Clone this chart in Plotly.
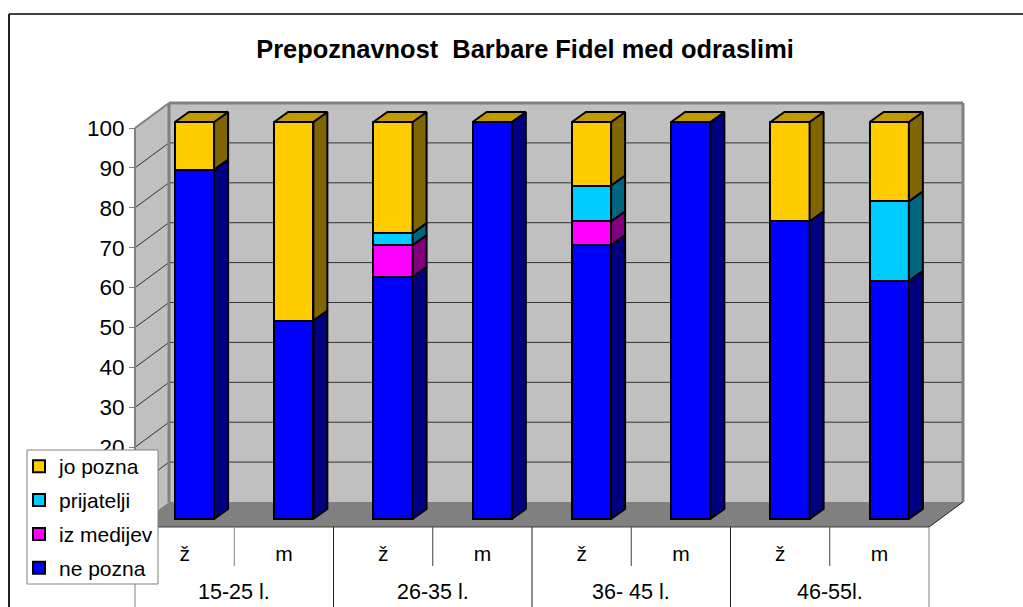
import plotly.graph_objects as go

TITLE = "Prepoznavnost  Barbare Fidel med odraslimi"
SUB = ["ž", "m", "ž", "m", "ž", "m", "ž", "m"]
GROUPS = ["15-25 l.", "26-35 l.", "36- 45 l.", "46-55l."]
ne_pozna = [88, 50, 61, 100, 69, 100, 75, 60]
iz_medijev = [0, 0, 8, 0, 6, 0, 0, 0]
prijatelji = [0, 0, 3, 0, 9, 0, 0, 20]
jo_pozna = [12, 50, 28, 0, 16, 0, 25, 20]
SERIES = [
    ("ne pozna", ne_pozna, "#0000FF", "#000080"),
    ("iz medijev", iz_medijev, "#FF00FF", "#800080"),
    ("prijatelji", prijatelji, "#00CCFF", "#006680"),
    ("jo pozna", jo_pozna, "#FFCC00", "#806600"),
]
TOP_COLOR = "#C09A00"
TICKS = list(range(0, 101, 10))
TICK_LABELS = ["", "", "20", "30", "40", "50", "60", "70", "80", "90", "100"]  # 0 and 10 lie under the legend

W, H = 1023, 607
FONT = "Liberation Sans, Arial, sans-serif"
UX, X0 = 99.25, 194.5   # px per category, centre of first bar
UY, Y0 = 3.97, 519.0    # px per percent, base of bars
BAR_W = 0.395
DX, DY = 14 / UX, 10 / UY  # bar depth in axis units

FL, FR, FB, FS = 135, 929, 527, 3.99   # front plane
BL, BR, BB, BS = 169, 963, 502, 3.99   # back wall
GRID = "#333333"
EDGE = "#808080"


def px(x):
    return x / W


def py(y):
    return 1 - y / H


def poly(pts, fill, line=None, width=1, layer="below"):
    d = "M" + "L".join(f"{px(x):.5f},{py(y):.5f}" for x, y in pts) + "Z"
    return dict(type="path", path=d, xref="paper", yref="paper", fillcolor=fill,
                line=dict(color=line or fill, width=width if line else 0), layer=layer)


def seg(x0, y0, x1, y1, color, width=1, layer="below"):
    return dict(type="line", xref="paper", yref="paper", x0=px(x0), y0=py(y0), x1=px(x1), y1=py(y1),
                line=dict(color=color, width=width), layer=layer)


shapes = []
# chart frame (top and left edges are what fits in the page)
shapes += [seg(9, 14, W, 14, "#404040", 2), seg(9, 14, 9, H, "#202020", 2)]
# walls and floor
top_y = BB - 100 * BS
ftop = FB - 100 * FS
shapes.append(poly([(BL, top_y), (BR, top_y), (BR, BB), (BL, BB)], "#C0C0C0"))
shapes.append(poly([(FL, ftop), (BL, top_y), (BL, BB), (FL, FB)], "#C0C0C0"))
for v in TICKS[1:-1]:
    shapes.append(seg(BL, BB - v * BS, BR, BB - v * BS, GRID, 1))
    shapes.append(seg(FL, FB - v * FS, BL, BB - v * BS, GRID, 1))
shapes.append(poly([(FL, FB), (FR, FB), (BR, BB), (BL, BB)], "#808080"))
shapes += [
    seg(BL, top_y, BR, top_y, EDGE, 3),
    seg(BR, top_y, BR, BB, EDGE, 3),
    seg(BL, top_y, BL, BB, EDGE, 3),
    seg(FL, ftop, BL, top_y, EDGE, 2),
    seg(FL, FB, FR, FB, "#404040", 1),
    seg(FR, FB, BR, BB, "#202020", 1),
]
# category dividers
cat = (FR - FL) / len(SUB)
for i in range(len(SUB) + 1):
    x = FL + i * cat
    if i % 2:
        shapes.append(seg(x, FB, x, 566, "#404040" if i > 1 else EDGE, 1))
    else:
        shapes.append(seg(x, FB, x, H, EDGE if i in (0, len(SUB)) else "#202020", 1))
# legend box sits above the chart
shapes.append(dict(type="rect", xref="paper", yref="paper", x0=px(27), x1=px(158), y0=py(450), y1=py(584),
                   fillcolor="white", line=dict(color="#808080", width=1), layer="above"))

fig = go.Figure()
for k, (name, vals, col, _) in enumerate(SERIES):
    fig.add_trace(go.Bar(
        x=list(range(len(SUB))), y=vals, name=name, legendgroup=name, legendrank=len(SERIES) - k, width=BAR_W,
        marker=dict(color=col, line=dict(color="black", width=2)),
        xaxis="x", yaxis="y", hoverinfo="skip"))

# side faces and tops come from the same values
for i in range(len(SUB)):
    base = 0
    xr = i + BAR_W / 2
    xl = i - BAR_W / 2
    for name, vals, col, dark in SERIES:
        v = vals[i]
        if v > 0:
            fig.add_trace(go.Scatter(
                x=[xr, xr + DX, xr + DX, xr, xr],
                y=[base, base + DY, base + v + DY, base + v, base],
                mode="lines", fill="toself", fillcolor=dark, line=dict(color="black", width=2),
                showlegend=False, hoverinfo="skip", xaxis="x", yaxis="y"))
        base += v
    fig.add_trace(go.Scatter(
        x=[xl, xr, xr + DX, xl + DX, xl],
        y=[base, base, base + DY, base + DY, base],
        mode="lines", fill="toself", fillcolor=TOP_COLOR, line=dict(color="black", width=2),
        showlegend=False, hoverinfo="skip", xaxis="x", yaxis="y"))

# invisible carrier for the front-plane axes
fig.add_trace(go.Scatter(x=list(range(len(SUB))), y=[0] * len(SUB), mode="lines", line=dict(width=0),
                         showlegend=False, hoverinfo="skip", xaxis="x2", yaxis="y2"))

annotations = [dict(text=g, xref="x2", yref="paper", x=0.5 + 2 * i, y=py(592), showarrow=False,
                    font=dict(family=FONT, size=21.5, color="black"), xanchor="center", yanchor="middle")
               for i, g in enumerate(GROUPS)]

fig.update_layout(
    width=W, height=H, autosize=False,
    margin=dict(l=0, r=0, t=0, b=0, autoexpand=False),
    paper_bgcolor="white", plot_bgcolor="rgba(0,0,0,0)",
    barmode="stack", bargap=0,
    title=dict(text=f"<b>{TITLE}</b>", x=525 / W, xanchor="center", y=py(49), yanchor="middle",
               font=dict(family=FONT, size=25.4, color="black")),
    xaxis=dict(domain=[0, 1], range=[(0 - X0) / UX, (W - X0) / UX], visible=False, fixedrange=True),
    yaxis=dict(domain=[0, 1], range=[(Y0 - H) / UY, Y0 / UY], visible=False, fixedrange=True),
    xaxis2=dict(domain=[px(FL), px(FR)], range=[-0.5, len(SUB) - 0.5], anchor="y2",
                tickmode="array", tickvals=list(range(len(SUB))), ticktext=SUB,
                ticks="outside", ticklen=8, tickcolor="rgba(0,0,0,0)", showline=False, showgrid=False,
                zeroline=False, tickfont=dict(family=FONT, size=21, color="black"), fixedrange=True),
    yaxis2=dict(domain=[py(FB), py(ftop)], range=[0, 100], anchor="free", position=px(FL), side="left",
                tickmode="array", tickvals=TICKS, ticktext=TICK_LABELS, ticks="outside", ticklen=5,
                tickcolor=EDGE, tickwidth=1,
                showline=True, linecolor=EDGE, linewidth=2, showgrid=False, zeroline=False,
                tickfont=dict(family=FONT, size=22.5, color="black"), fixedrange=True),
    legend=dict(x=px(27), xanchor="left", y=py(446), yanchor="top", bgcolor="rgba(0,0,0,0)", borderwidth=0,
                traceorder="grouped", tracegroupgap=3.6, indentation=-8,
                font=dict(family=FONT, size=21, color="black")),
    shapes=shapes, annotations=annotations,
)
fig.write_html("out.html", config=dict(displayModeBar=False),
               post_script="document.body.style.margin='0';document.documentElement.style.overflow='hidden';")
